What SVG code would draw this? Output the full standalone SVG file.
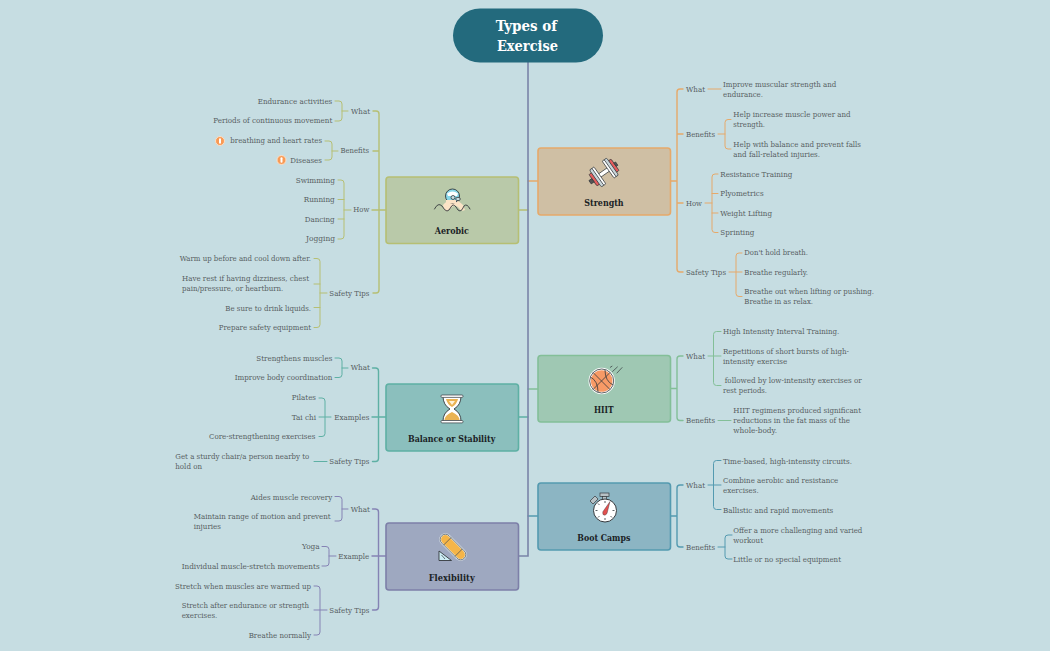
<svg xmlns="http://www.w3.org/2000/svg" width="1050" height="651" viewBox="0 0 1050 651">
<defs><style>
text{font-family:"DejaVu Serif","Liberation Serif",serif;}
.t{font-size:8px;fill:#585f62;}
.h{font-size:9px;font-weight:700;fill:#1a2225;}
.r{font-size:14.5px;font-weight:700;fill:#fff;}
.l{fill:none;stroke-width:1;stroke-linecap:round;}
.b{fill:none;stroke-width:1.4;stroke-linecap:round;}
.ol{stroke:#b6bf73}.or{stroke:#e6a96a}.gr{stroke:#83bf98}.te{stroke:#5eb0a4}.bl{stroke:#549ab0}.pu{stroke:#8583b4}
.ink{stroke:#33383c;stroke-width:.8;}
</style></defs>
<rect width="1050" height="651" fill="#c6dde2"/>
<g id="connectors">
<path d="M519 210H528" class="b ol"/><path d="M528 181H538" class="b or"/><path d="M528 389H538" class="b gr"/><path d="M519 417H528" class="b te"/><path d="M528 516H538" class="b bl"/>
<path d="M528 62V556H519" fill="none" stroke="#7a84a8" stroke-width="1.6"/>
<g class="ol">
<path d="M373 111H376Q379 111 379 114V290Q379 293 376 293H373M373 151H379M372 210H386" class="b ol"/>
<path d="M335 101H339Q342 101 342 104V118Q342 121 339 121H335M342 111H348" class="l ol"/>
<path d="M325 141H329Q332 141 332 144V157Q332 160 329 160H325M332 151H338" class="l ol"/>
<path d="M338 180H341Q344 180 344 183V236Q344 239 341 239H338M338 199.500H344M338 219H344M344 210H351" class="l ol"/>
<path d="M314 258.500H317Q320 258.500 320 261.500V324.500Q320 327.500 317 327.500H314M314 284H320M314 307.500H320M320 293H327" class="l ol"/>
</g>
<g>
<path d="M683 89H680Q677 89 677 92V269Q677 272 680 272H683M683 134H677M683 203H677M671 181H677" class="b or"/>
<path d="M708 89H721" class="l or"/>
<path d="M718 134H725M731 119.500H728Q725 119.500 725 122.500V146Q725 149 728 149H731" class="l or"/>
<path d="M705 203H712M718 174H715Q712 174 712 177V229.500Q712 232.500 715 232.500H718M718 193.500H712M718 213H712" class="l or"/>
<path d="M729 272H742M742 253H739Q736 253 736 256V293.500Q736 296.500 739 296.500H742" class="l or"/>
</g>
<g>
<path d="M683 356H680Q677 356 677 359V417.500Q677 420.500 680 420.500H683M671 388.500H677" class="b gr"/>
<path d="M708 356H721M721 331.500H716.500Q713.500 331.500 713.500 334.500V382.500Q713.500 385.500 716.500 385.500H721" class="l gr"/>
<path d="M718 420.500H731" class="l gr"/>
</g>
<g>
<path d="M683 485H680Q677 485 677 488V544Q677 547 680 547H683M671 516H677" class="b bl"/>
<path d="M708 485H721M721 460.500H716.500Q713.500 460.500 713.500 463.500V506.500Q713.500 509.500 716.500 509.500H721" class="l bl"/>
<path d="M718 547H725M732 535H728Q725 535 725 538V556Q725 559 728 559H732" class="l bl"/>
</g>
<g>
<path d="M372.500 368H375.500Q378.500 368 378.500 371V458.500Q378.500 461.500 375.500 461.500H372.500M372 417H386" class="b te"/>
<path d="M335 358H339Q342 358 342 361V374.500Q342 377.500 339 377.500H335M342 368H348" class="l te"/>
<path d="M319 398H322Q325 398 325 401V433.500Q325 436.500 322 436.500H319M319 417H331" class="l te"/>
<path d="M314 461.500H327" class="l te"/>
</g>
<g>
<path d="M372.500 509H375.500Q378.500 509 378.500 512V607Q378.500 610 375.500 610H372.500M372 556H386" class="b pu"/>
<path d="M335 496.500H339Q342 496.500 342 499.500V518Q342 521 339 521H335M342 509H348" class="l pu"/>
<path d="M322 546.500H326Q329 546.500 329 549.500V563Q329 566 326 566H322M329 556H336" class="l pu"/>
<path d="M314 586H317Q320 586 320 589V632Q320 635 317 635H314M314 610H327" class="l pu"/>
</g>
</g>
<g id="root"><rect x="453" y="8.500" width="150" height="54" rx="27" fill="#236a7d"/>
<text class="r" x="495.700" y="30.500" textLength="61.300" lengthAdjust="spacingAndGlyphs">Types of</text>
<text class="r" x="497" y="50.500" textLength="61" lengthAdjust="spacingAndGlyphs">Exercise</text></g>

<g id="aerobic"><rect x="386" y="177" width="132.500" height="66.500" rx="3" fill="#b9c9a9" stroke="#b6bf73" stroke-width="1.6"/>
<path d="M443 205Q446 201 451 200L458 201Q461 203 463 205L465 210Q461 212 459 208Q455 203 451 208Q447 214 444 209Z" fill="#fbe3c6"/>
<path d="M434.500 209Q438 202 442 206Q445 211 447 211Q449 211 451 207Q453 203 456 207Q458 211 460 211Q462 211 464 206Q467 203 470 209" fill="none" stroke="#33383c" stroke-width=".9" stroke-linecap="round"/>
<circle cx="452.500" cy="196" r="7" fill="#86d6e8" stroke="#33383c" stroke-width=".9"/><path d="M447 193.500Q452.500 189.500 458 193.500L457 196H448Z" fill="#fff"/>
<path d="M446 200H456V203H446Z" fill="#fbe3c6"/>
<circle cx="453" cy="197.500" r="2" fill="#c6dde2" class="ink"/><ellipse cx="458" cy="199" rx="2.300" ry="1.700" fill="#c6dde2" class="ink"/>
<text class="h" x="434.700" y="234.300" textLength="34.300" lengthAdjust="spacingAndGlyphs">Aerobic</text></g>
<g id="aerobic-what"><text class="t" x="351" y="113.800" textLength="19" lengthAdjust="spacingAndGlyphs">What</text>
<text class="t" x="257.700" y="103.800" textLength="74.600" lengthAdjust="spacingAndGlyphs">Endurance activities</text>
<text class="t" x="213.300" y="123.300" textLength="119" lengthAdjust="spacingAndGlyphs">Periods of continuous movement</text></g>
<g id="aerobic-benefits"><text class="t" x="340.500" y="153.300" textLength="28.500" lengthAdjust="spacingAndGlyphs">Benefits</text>
<circle cx="220" cy="141" r="4.500" fill="#f89a55" stroke="#fbe0c8" stroke-width="1"/><rect x="219" y="138.300" width="2" height="5.400" rx="1" fill="#fff"/>
<text class="t" x="230.300" y="143.300" textLength="91.700" lengthAdjust="spacingAndGlyphs">breathing and heart rates</text>
<circle cx="281.500" cy="160" r="4.500" fill="#f89a55" stroke="#fbe0c8" stroke-width="1"/><rect x="280.500" y="157.300" width="2" height="5.400" rx="1" fill="#fff"/>
<text class="t" x="290.300" y="162.800" textLength="31.700" lengthAdjust="spacingAndGlyphs">Diseases</text></g>
<g id="aerobic-how"><text class="t" x="353.300" y="212.300" textLength="16" lengthAdjust="spacingAndGlyphs">How</text>
<text class="t" x="295.700" y="182.800" textLength="39.300" lengthAdjust="spacingAndGlyphs">Swimming</text>
<text class="t" x="303.700" y="202.300" textLength="31" lengthAdjust="spacingAndGlyphs">Running</text>
<text class="t" x="304.700" y="221.800" textLength="30" lengthAdjust="spacingAndGlyphs">Dancing</text>
<text class="t" x="306" y="241.300" textLength="29" lengthAdjust="spacingAndGlyphs">Jogging</text></g>
<g id="aerobic-safety"><text class="t" x="329.300" y="295.800" textLength="40" lengthAdjust="spacingAndGlyphs">Safety Tips</text>
<text class="t" x="179.700" y="261.300" textLength="131.300" lengthAdjust="spacingAndGlyphs">Warm up before and cool down after.</text>
<text class="t" x="182" y="280.800" textLength="127" lengthAdjust="spacingAndGlyphs">Have rest if having dizziness, chest</text>
<text class="t" x="182" y="290.800" textLength="101.300" lengthAdjust="spacingAndGlyphs">pain/pressure, or heartburn.</text>
<text class="t" x="225.300" y="310.800" textLength="85.700" lengthAdjust="spacingAndGlyphs">Be sure to drink liquids.</text>
<text class="t" x="218.700" y="330.300" textLength="92.300" lengthAdjust="spacingAndGlyphs">Prepare safety equipment</text></g>

<g id="strength"><rect x="538" y="148" width="132.500" height="67" rx="3" fill="#cfbfa4" stroke="#e6a96a" stroke-width="1.6"/>
<g transform="rotate(-35 604 172.500)" stroke="#33383c" stroke-width=".7">
<rect x="598" y="170.500" width="12" height="4" fill="#fff"/>
<rect x="590.500" y="165.500" width="3.500" height="14" rx="1" fill="#e45d5d"/><rect x="614" y="165.500" width="3.500" height="14" rx="1" fill="#e45d5d"/>
<rect x="593.500" y="162" width="3.500" height="21" rx="1.700" fill="#c9d5d9"/><rect x="596.500" y="162" width="2.500" height="21" rx="1.200" fill="#fff"/>
<rect x="611" y="162" width="3.500" height="21" rx="1.700" fill="#c9d5d9"/><rect x="609" y="162" width="2.500" height="21" rx="1.200" fill="#fff"/>
<rect x="587" y="170.500" width="3.500" height="4" fill="#555"/><rect x="617.500" y="170.500" width="2" height="4" fill="#555"/></g>
<text class="h" x="584.300" y="205.700" textLength="39.300" lengthAdjust="spacingAndGlyphs">Strength</text></g>
<g id="strength-what"><text class="t" x="686" y="91.800" textLength="19" lengthAdjust="spacingAndGlyphs">What</text>
<text class="t" x="723" y="87.100" textLength="113.300" lengthAdjust="spacingAndGlyphs">Improve muscular strength and</text>
<text class="t" x="723" y="97.100" textLength="40" lengthAdjust="spacingAndGlyphs">endurance.</text></g>
<g id="strength-benefits"><text class="t" x="686" y="136.800" textLength="29" lengthAdjust="spacingAndGlyphs">Benefits</text>
<text class="t" x="733.300" y="117.100" textLength="117.300" lengthAdjust="spacingAndGlyphs">Help increase muscle power and</text>
<text class="t" x="733.300" y="127.100" textLength="31.700" lengthAdjust="spacingAndGlyphs">strength.</text>
<text class="t" x="733.300" y="146.800" textLength="127.700" lengthAdjust="spacingAndGlyphs">Help with balance and prevent falls</text>
<text class="t" x="733.300" y="156.800" textLength="86.700" lengthAdjust="spacingAndGlyphs">and fall-related injuries.</text></g>
<g id="strength-how"><text class="t" x="686" y="205.800" textLength="16" lengthAdjust="spacingAndGlyphs">How</text>
<text class="t" x="720.300" y="176.800" textLength="72" lengthAdjust="spacingAndGlyphs">Resistance Training</text>
<text class="t" x="720.300" y="196.300" textLength="43.300" lengthAdjust="spacingAndGlyphs">Plyometrics</text>
<text class="t" x="720.300" y="215.800" textLength="51.700" lengthAdjust="spacingAndGlyphs">Weight Lifting</text>
<text class="t" x="720.300" y="235.300" textLength="34" lengthAdjust="spacingAndGlyphs">Sprinting</text></g>
<g id="strength-safety"><text class="t" x="686" y="274.800" textLength="40" lengthAdjust="spacingAndGlyphs">Safety Tips</text>
<text class="t" x="744.300" y="255.300" textLength="63.700" lengthAdjust="spacingAndGlyphs">Don't hold breath.</text>
<text class="t" x="744.300" y="274.800" textLength="63.700" lengthAdjust="spacingAndGlyphs">Breathe regularly.</text>
<text class="t" x="744.300" y="294.300" textLength="129.700" lengthAdjust="spacingAndGlyphs">Breathe out when lifting or pushing.</text>
<text class="t" x="744.300" y="304.300" textLength="68.700" lengthAdjust="spacingAndGlyphs">Breathe in as relax.</text></g>

<g id="hiit"><rect x="538" y="355.500" width="132.500" height="66.500" rx="3" fill="#9fc8b3" stroke="#83bf98" stroke-width="1.600"/>
<circle cx="601.700" cy="381" r="12" fill="#f79a66" stroke="#fff" stroke-width="2.400"/><circle cx="601.700" cy="381" r="12" fill="none" class="ink"/>
<path d="M593 372.500L610 389.500M610 372.500L593 389.500M590.500 377Q598 381 598 392M613 385Q605 381 605 370" fill="none" class="ink"/>
<path d="M610 367.500L612.300 366M612.300 371.700L617.700 366.700M616.700 373.300L622.300 367.300" fill="none" stroke="#33383c" stroke-width=".7"/>
<text class="h" x="594" y="413.200" textLength="19.700" lengthAdjust="spacingAndGlyphs">HIIT</text></g>
<g id="hiit-what"><text class="t" x="686" y="358.800" textLength="19" lengthAdjust="spacingAndGlyphs">What</text>
<text class="t" x="723" y="334.300" textLength="116.300" lengthAdjust="spacingAndGlyphs">High Intensity Interval Training.</text>
<text class="t" x="723" y="353.800" textLength="126" lengthAdjust="spacingAndGlyphs">Repetitions of short bursts of high-</text>
<text class="t" x="723" y="363.800" textLength="64.300" lengthAdjust="spacingAndGlyphs">intensity exercise</text>
<text class="t" x="724.700" y="383.300" textLength="137" lengthAdjust="spacingAndGlyphs">followed by low-intensity exercises or</text>
<text class="t" x="723" y="393.300" textLength="44" lengthAdjust="spacingAndGlyphs">rest periods.</text></g>
<g id="hiit-benefits"><text class="t" x="686" y="423.300" textLength="29" lengthAdjust="spacingAndGlyphs">Benefits</text>
<text class="t" x="733.300" y="413.300" textLength="127.700" lengthAdjust="spacingAndGlyphs">HIIT regimens produced significant</text>
<text class="t" x="733.300" y="423.300" textLength="116.700" lengthAdjust="spacingAndGlyphs">reductions in the fat mass of the</text>
<text class="t" x="733.300" y="433.300" textLength="43.700" lengthAdjust="spacingAndGlyphs">whole-body.</text></g>

<g id="balance"><rect x="386" y="384" width="132.500" height="67" rx="3" fill="#8bbfbd" stroke="#5eb0a4" stroke-width="1.600"/>
<path d="M443 396H461Q461 405 454 409Q461 413 461 421H443Q443 413 450 409Q443 405 443 396Z" fill="#fff" stroke="#33383c" stroke-width=".9"/>
<path d="M446 399H458Q457 404 452 407Q447 404 446 399ZM444.500 420Q445 415 452 412Q459 415 459.500 420Z" fill="#eab353"/>
<path d="M449 401H455L452 405Z" fill="#fff3d8"/>
<rect x="441" y="395" width="22" height="2.400" rx="1" fill="#fff" stroke="#33383c" stroke-width=".7"/>
<rect x="441" y="420.500" width="22" height="2.400" rx="1" fill="#fff" stroke="#33383c" stroke-width=".7"/>
<text class="h" x="408" y="441.700" textLength="87.300" lengthAdjust="spacingAndGlyphs">Balance or Stability</text></g>
<g id="balance-what"><text class="t" x="350.700" y="370.300" textLength="19.300" lengthAdjust="spacingAndGlyphs">What</text>
<text class="t" x="256.300" y="360.800" textLength="76" lengthAdjust="spacingAndGlyphs">Strengthens muscles</text>
<text class="t" x="234.700" y="380.300" textLength="97.600" lengthAdjust="spacingAndGlyphs">Improve body coordination</text></g>
<g id="balance-examples"><text class="t" x="334.300" y="419.800" textLength="35" lengthAdjust="spacingAndGlyphs">Examples</text>
<text class="t" x="291.700" y="400.300" textLength="24.300" lengthAdjust="spacingAndGlyphs">Pilates</text>
<text class="t" x="291.700" y="419.800" textLength="24.300" lengthAdjust="spacingAndGlyphs">Tai chi</text>
<text class="t" x="209" y="439.300" textLength="106.300" lengthAdjust="spacingAndGlyphs">Core-strengthening exercises</text></g>
<g id="balance-safety"><text class="t" x="329.300" y="464.300" textLength="40" lengthAdjust="spacingAndGlyphs">Safety Tips</text>
<text class="t" x="175.300" y="459.300" textLength="134" lengthAdjust="spacingAndGlyphs">Get a sturdy chair/a person nearby to</text>
<text class="t" x="175.300" y="469.300" textLength="26.700" lengthAdjust="spacingAndGlyphs">hold on</text></g>

<g id="bootcamps"><rect x="538" y="483" width="132.500" height="67" rx="3" fill="#8cb5c3" stroke="#549ab0" stroke-width="1.600"/>
<path d="M590 501L595 496L598 499L593 504Z" fill="#b8c2c6" stroke="#33383c" stroke-width=".7"/>
<rect x="600" y="493" width="9" height="3.500" fill="#b8c2c6" stroke="#33383c" stroke-width=".7"/><rect x="602.500" y="496.500" width="4" height="3" fill="#b8c2c6" stroke="#33383c" stroke-width=".7"/>
<circle cx="605" cy="510.500" r="11.500" fill="#fff" stroke="#33383c" stroke-width="1"/>
<path d="M605 501V503M605 518V520M595.500 510.500H597.500M612.500 510.500H614.500M598 503.500L599.500 505M612 517.500L610.500 516M598 517.500L599.500 516" stroke="#33383c" stroke-width=".8"/>
<path d="M610 501.500L607 513.500Q605 516.500 603 514.500Q602.500 512.500 603 511.500Z" fill="#e2504f" stroke="#33383c" stroke-width=".4"/>
<text class="h" x="577.300" y="540.700" textLength="53" lengthAdjust="spacingAndGlyphs">Boot Camps</text></g>
<g id="bootcamps-what"><text class="t" x="686" y="487.800" textLength="19" lengthAdjust="spacingAndGlyphs">What</text>
<text class="t" x="723" y="463.500" textLength="129" lengthAdjust="spacingAndGlyphs">Time-based, high-intensity circuits.</text>
<text class="t" x="723" y="483.100" textLength="115.300" lengthAdjust="spacingAndGlyphs">Combine aerobic and resistance</text>
<text class="t" x="723" y="493.100" textLength="35.700" lengthAdjust="spacingAndGlyphs">exercises.</text>
<text class="t" x="723" y="512.500" textLength="110.300" lengthAdjust="spacingAndGlyphs">Ballistic and rapid movements</text></g>
<g id="bootcamps-benefits"><text class="t" x="686" y="549.800" textLength="29" lengthAdjust="spacingAndGlyphs">Benefits</text>
<text class="t" x="733.300" y="532.800" textLength="129" lengthAdjust="spacingAndGlyphs">Offer a more challenging and varied</text>
<text class="t" x="733.300" y="542.800" textLength="29.700" lengthAdjust="spacingAndGlyphs">workout</text>
<text class="t" x="733.300" y="562.300" textLength="107.700" lengthAdjust="spacingAndGlyphs">Little or no special equipment</text></g>

<g id="flexibility"><rect x="386" y="523" width="132.500" height="67" rx="3" fill="#9ea8c0" stroke="#7d7fa8" stroke-width="1.600"/>
<g transform="rotate(45 453 547)"><rect x="437" y="541.800" width="32" height="10.400" rx="5.200" fill="#f5b548" stroke="#e6eef2" stroke-width="1.800"/><rect x="437" y="541.800" width="32" height="10.400" rx="5.200" fill="none" stroke="#4a4f55" stroke-width=".7"/><path d="M445 541.800V552.200M461 541.800V552.200" stroke="#4a4f55" stroke-width=".7"/></g>
<path d="M439 551L451.500 560.500H439Z" fill="#cdeef5" stroke="#33383c" stroke-width=".9"/><path d="M441.500 555L445 559" stroke="#33383c" stroke-width=".7"/>
<text class="h" x="428.700" y="580.700" textLength="46" lengthAdjust="spacingAndGlyphs">Flexibility</text></g>
<g id="flexibility-what"><text class="t" x="350.700" y="511.500" textLength="19.300" lengthAdjust="spacingAndGlyphs">What</text>
<text class="t" x="250.700" y="499.500" textLength="81.600" lengthAdjust="spacingAndGlyphs">Aides muscle recovery</text>
<text class="t" x="193.700" y="519.100" textLength="137" lengthAdjust="spacingAndGlyphs">Maintain range of motion and prevent</text>
<text class="t" x="193.700" y="529.100" textLength="27.300" lengthAdjust="spacingAndGlyphs">injuries</text></g>
<g id="flexibility-example"><text class="t" x="338.300" y="558.800" textLength="31" lengthAdjust="spacingAndGlyphs">Example</text>
<text class="t" x="302" y="549.100" textLength="17.700" lengthAdjust="spacingAndGlyphs">Yoga</text>
<text class="t" x="181.700" y="568.500" textLength="138" lengthAdjust="spacingAndGlyphs">Individual muscle-stretch movements</text></g>
<g id="flexibility-safety"><text class="t" x="329.300" y="612.800" textLength="40" lengthAdjust="spacingAndGlyphs">Safety Tips</text>
<text class="t" x="175" y="588.800" textLength="136" lengthAdjust="spacingAndGlyphs">Stretch when muscles are warmed up</text>
<text class="t" x="181.700" y="608.100" textLength="127.300" lengthAdjust="spacingAndGlyphs">Stretch after endurance or strength</text>
<text class="t" x="181.700" y="618.100" textLength="35.600" lengthAdjust="spacingAndGlyphs">exercises.</text>
<text class="t" x="248.700" y="637.800" textLength="62.300" lengthAdjust="spacingAndGlyphs">Breathe normally</text></g>
</svg>
